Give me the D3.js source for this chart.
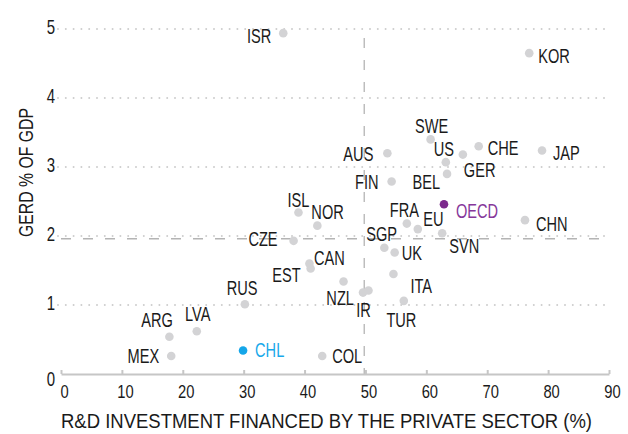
<!DOCTYPE html>
<meta charset="utf-8">
<script src="https://d3js.org/d3.v7.min.js"></script>
<style type="text/css">
body { margin: 0; background: #fff; }
svg { display: block; font-family: 'Liberation Sans', Arial, sans-serif; }
.grid line { stroke: #cdcdcd; stroke-width: 2px; stroke-dasharray: 0 7.8; stroke-linecap: round; }
.ref { stroke: #b4b4b4; stroke-width: 1.3px; stroke-dasharray: 10 12; fill: none; }
.x.axis path, .x.axis line { stroke: #c6c6c6; stroke-width: 2px; }
.axis text { font-size: 20px; fill: #1a1a1a; }
.x.axis text { font-size: 18px; }
.label { font-size: 20px; fill: #1a1a1a; }
.title { font-size: 19.5px; fill: #1a1a1a; }
</style>
<body></body>
<script>

// country codes, % of R&D financed by private sector, GERD as % of GDP
var countries = ['ISR','KOR','SWE','AUS','US','GER','CHE','JAP','FIN','BEL','ISL','NOR','CZE','FRA','EU','OECD','CHN','SGP','SVN','UK','CAN','EST','NZL','IR','','ITA','TUR','RUS','ARG','LVA','MEX','CHL','COL'];
var privateShare = [36.5, 76.9, 60.7, 53.6, 63.2, 66.0, 68.6, 79.0, 54.3, 63.4, 39.0, 42.1, 38.2, 56.8, 58.6, 62.9, 76.2, 53.1, 62.6, 54.8, 40.8, 41.0, 46.4, 49.6, 50.5, 54.6, 56.3, 30.2, 17.8, 22.3, 18.1, 29.9, 42.9];
var gerd = [4.94, 4.65, 3.40, 3.20, 3.07, 3.18, 3.30, 3.24, 2.79, 2.90, 2.34, 2.15, 1.93, 2.18, 2.10, 2.46, 2.23, 1.83, 2.04, 1.76, 1.60, 1.53, 1.34, 1.18, 1.21, 1.45, 1.06, 1.01, 0.54, 0.62, 0.26, 0.34, 0.26];

// reference (average) lines
var refPrivate = 49.8;
var refGerd = 1.96;

var xTicks = [0, 10, 20, 30, 40, 50, 60, 70, 80, 90];
var yTicks = [0, 1, 2, 3, 4, 5];

var xTitle = 'R&D INVESTMENT FINANCED BY THE PRIVATE SECTOR (%)';
var yTitle = 'GERD % OF GDP';

// label placement: anchor, dx, dy (text centre relative to dot)
var labelPlace = {
  ISR: ['end', -12, 2.5], KOR: ['start', 9, 2.5], SWE: ['middle', 1, -14], AUS: ['end', -14, 0.7],
  US: ['middle', -2, -13], GER: ['start', 1, 15], CHE: ['start', 9, 1.5], JAP: ['start', 11, 2],
  FIN: ['end', -13, 0.5], BEL: ['end', -7, 8], ISL: ['middle', 0, -13], NOR: ['start', -6, -13.5],
  CZE: ['end', -16, -2], FRA: ['middle', -2.5, -14], EU: ['start', 5.5, -10], OECD: ['start', 12, 7],
  CHN: ['start', 11, 4], SGP: ['middle', -2.7, -13.5], SVN: ['start', 7, 12.5], UK: ['start', 7, 0.7],
  CAN: ['start', 4.5, -6], EST: ['end', -10, 6.7], NZL: ['middle', -3.4, 15.8], IR: ['middle', 0.5, 17.7],
  ITA: ['start', 17, 12], TUR: ['middle', -2.4, 19], RUS: ['middle', -2.7, -17], ARG: ['end', 3.5, -17],
  LVA: ['middle', 1, -17], MEX: ['end', -12, -0.7], CHL: ['start', 12, -0.8], COL: ['start', 10, -0.7]
};

var highlight = { OECD: ['#7c2a8c', '#86379a'], CHL: ['#14a6e9', '#18a8ea'] };

var data = countries.map(function(c, i) {
  return { code: c, x: privateShare[i], y: gerd[i] };
});

// squeeze text horizontally to get a condensed look
function squeeze(textSel, s) {
  textSel.each(function() {
    var t = d3.select(this);
    var x = +t.attr('x') || 0, y = +t.attr('y') || 0;
    t.attr('x', 0).attr('y', 0)
     .attr('transform', 'translate(' + x + ',' + y + ') scale(' + s + ',1)');
  });
}

var margin = {top: 29, right: 19, bottom: 60, left: 61};
var width = 628 - margin.left - margin.right,
    height = 434 - margin.top - margin.bottom;

var svg = d3.select('body').append('svg')
  .attr('width', 628)
  .attr('height', 434)
  .append('g')
  .attr('transform', 'translate(' + margin.left + ',' + margin.top + ')');

var xScale = d3.scaleLinear().domain([0, 90]).range([0, width]);
var yScale = d3.scaleLinear().domain([0, 5]).range([height, 0]);

// dotted grid
svg.append('g').attr('class', 'grid')
  .selectAll('line')
  .data(yTicks.filter(function(d) { return d > 0; }))
  .enter().append('line')
  .attr('x1', -3).attr('x2', width)
  .attr('y1', function(d) { return yScale(d); })
  .attr('y2', function(d) { return yScale(d); });

// reference lines
svg.append('line').attr('class', 'ref')
  .attr('x1', 0).attr('x2', width - 2)
  .attr('y1', yScale(refGerd)).attr('y2', yScale(refGerd));
svg.append('line').attr('class', 'ref')
  .attr('x1', xScale(refPrivate)).attr('x2', xScale(refPrivate))
  .attr('y1', 9).attr('y2', height);

// x axis
var xAxis = d3.axisBottom(xScale).tickValues(xTicks).tickSize(-4).tickSizeOuter(0).tickPadding(11);
var xAxisGroup = svg.append('g')
  .attr('class', 'x axis')
  .attr('transform', 'translate(0,' + height + ')')
  .call(xAxis);
xAxisGroup.selectAll('text').attr('x', 3);
squeeze(xAxisGroup.selectAll('text'), 0.82);

// y axis (labels only)
var yAxis = d3.axisLeft(yScale).tickValues(yTicks).tickSize(0).tickPadding(6).tickFormat(d3.format('d'));
var yAxisGroup = svg.append('g')
  .attr('class', 'y axis')
  .call(yAxis);
yAxisGroup.select('.domain').remove();
yAxisGroup.selectAll('text').attr('dy', function(d) { return d === 0 ? '0.55em' : '0.22em'; });
squeeze(yAxisGroup.selectAll('text'), 0.75);

// points
var pointGroup = svg.selectAll('.pointGroup')
  .data(data).enter().append('g')
  .attr('class', 'pointGroup')
  .attr('transform', function(d) { return 'translate(' + xScale(d.x) + ',' + yScale(d.y) + ')'; });

pointGroup.append('circle')
  .attr('r', 4.3)
  .style('fill', function(d) { return highlight[d.code] ? highlight[d.code][0] : '#d3d3d5'; });

var labels = pointGroup.filter(function(d) { return labelPlace[d.code]; })
  .append('text')
  .attr('class', 'label')
  .attr('text-anchor', function(d) { return labelPlace[d.code][0]; })
  .attr('x', function(d) { return labelPlace[d.code][1]; })
  .attr('y', function(d) { return labelPlace[d.code][2]; })
  .attr('dy', '0.36em')
  .style('fill', function(d) { return highlight[d.code] ? highlight[d.code][1] : null; })
  .text(function(d) { return d.code; });
squeeze(labels, 0.73);

// axis titles
svg.append('text')
  .attr('class', 'title')
  .attr('x', 0)
  .attr('y', height + 54)
  .attr('textLength', 531)
  .attr('lengthAdjust', 'spacingAndGlyphs')
  .text(xTitle);

svg.append('text')
  .attr('class', 'title')
  .attr('text-anchor', 'middle')
  .attr('textLength', 129)
  .attr('lengthAdjust', 'spacingAndGlyphs')
  .attr('transform', 'translate(' + (33 - margin.left) + ',' + (172.5 - margin.top) + ') rotate(-90)')
  .text(yTitle);

</script>
